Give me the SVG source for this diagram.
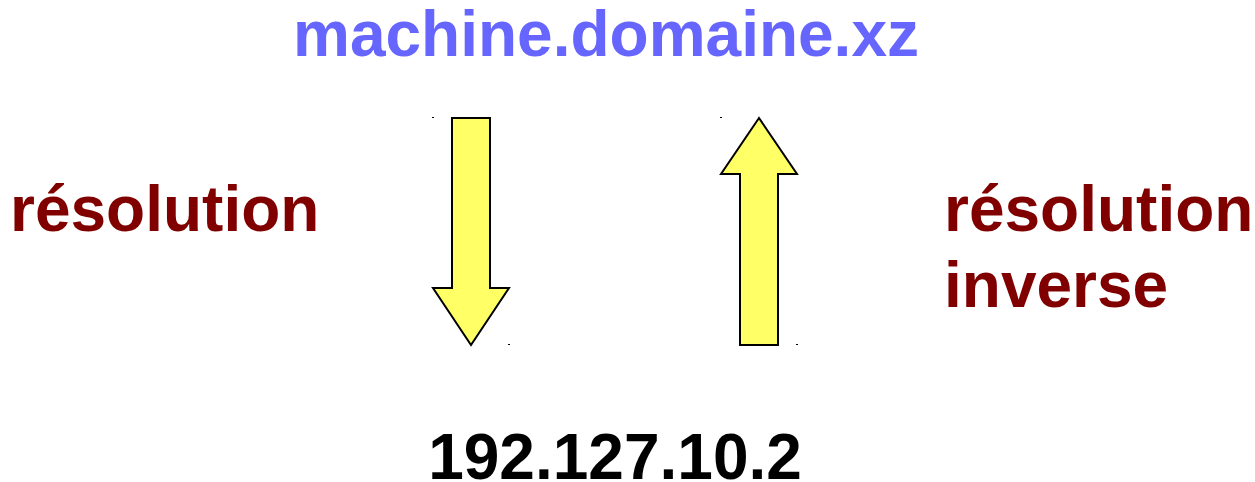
<svg xmlns="http://www.w3.org/2000/svg" width="1255" height="482" viewBox="0 0 1255 482">
<style>
text{font-family:"Liberation Sans",Arial,sans-serif;font-weight:bold;font-size:64px}
.arrow{fill:#ffff66;stroke:#000;stroke-width:2;stroke-linejoin:miter}
.dot{fill:#000}
.red{fill:#800000}
</style>
<rect width="1255" height="482" fill="#fff"/>
<g id="title"><text x="606" y="56" text-anchor="middle" fill="#6666ff">machine.domaine.xz</text></g>
<g id="ip"><text x="615" y="479" text-anchor="middle" fill="#000">192.127.10.2</text></g>
<g id="label-resolution"><text x="10" y="231" class="red">résolution</text></g>
<g id="label-inverse"><text x="944" y="231" class="red">résolution</text><text x="944" y="307" class="red">inverse</text></g>
<g id="connectors">
<g id="arrow-down">
<polygon class="arrow" points="452,118 490,118 490,288 509,288 471,345 433,288 452,288"/>
<rect class="dot" x="432" y="117" width="2" height="1"/>
<rect class="dot" x="508" y="344" width="2" height="1"/>
</g>
<g id="arrow-up">
<polygon class="arrow" points="759,118 797,174 778,174 778,345 740,345 740,174 721,174"/>
<rect class="dot" x="720" y="117" width="2" height="1"/>
<rect class="dot" x="796" y="344" width="2" height="1"/>
</g>
</g>
</svg>
